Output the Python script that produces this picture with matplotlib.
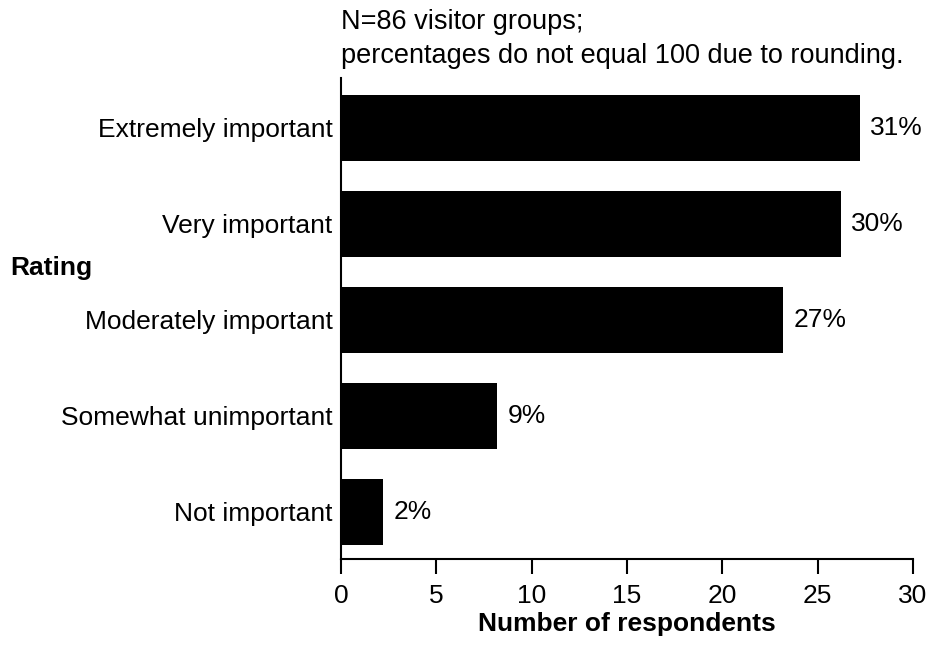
import matplotlib
matplotlib.use('Agg')
from matplotlib import pyplot as plt

plt.rcParams['font.family'] = ['Liberation Sans', 'DejaVu Sans']

ratings = ['Not important', 'Somewhat unimportant', 'Moderately important',
           'Very important', 'Extremely important']
counts = [2.2, 8.2, 23.2, 26.2, 27.2]
pct_labels = ['2%', '9%', '27%', '30%', '31%']

fs = 19

fig = plt.figure(figsize=(9.36, 6.46), dpi=100)
ax = fig.add_axes([0.3643, 0.1347, 0.6111, 0.7446])

pos = list(range(len(ratings)))
ax.barh(pos, counts, height=0.69, color='black')
for p, c, t in zip(pos, counts, pct_labels):
    ax.text(c + 0.55, p, t, va='center', ha='left', fontsize=fs)

ax.set_xlim(0, 30)
ax.set_ylim(-0.49, 4.52)
ax.set_xticks([0, 5, 10, 15, 20, 25, 30])
ax.set_yticks(pos)
ax.set_yticklabels(ratings)
ax.tick_params(axis='y', length=0, pad=6, labelsize=fs)
ax.tick_params(axis='x', length=11, width=1.5, pad=7, labelsize=fs, direction='out')
for s in ['top', 'right']:
    ax.spines[s].set_visible(False)
ax.spines['left'].set_linewidth(1.5)
ax.spines['bottom'].set_linewidth(1.5)

ax.set_xlabel('Number of respondents', fontsize=fs, fontweight='bold', labelpad=3)
fig.text(0.011, 1 - 268 / 646, 'Rating', fontsize=fs, fontweight='bold', va='center')
fig.text(341 / 936, 1 - 9 / 646,
         'N=86 visitor groups;\npercentages do not equal 100 due to rounding.',
         fontsize=19.5, va='top', ha='left', linespacing=1.4)

fig.savefig('out.png', dpi=100)
